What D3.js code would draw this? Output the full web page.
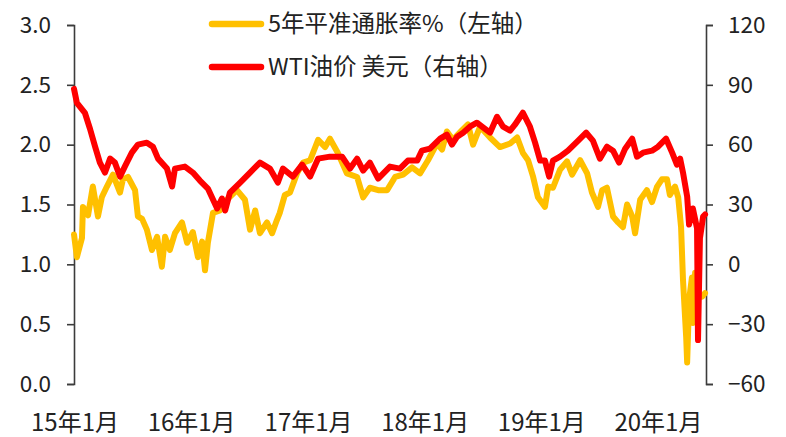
<!DOCTYPE html>
<html><head><meta charset="utf-8">
<script src="https://cdn.jsdelivr.net/npm/d3@7"></script>
<style>body{margin:0;background:#fff}svg{display:block}text{font-family:"Noto Sans CJK SC","Noto Sans",sans-serif}</style>
</head><body><svg id="c" width="786" height="437"></svg>
<script>
const seriesNames = ["5年平准通胀率%（左轴）", "WTI油价 美元（右轴）"];
const xTickLabels = ["15年1月","16年1月","17年1月","18年1月","19年1月","20年1月"];
const xTickDates = ["2015-01-01","2016-01-01","2017-01-01","2018-01-01","2019-01-01","2020-01-01"];
const leftTicks = [0.0,0.5,1.0,1.5,2.0,2.5,3.0];
const rightTicks = [-60,-30,0,30,60,90,120];

const bkDates = ["2015-01-01","2015-01-10","2015-01-26","2015-01-29","2015-02-14","2015-03-01","2015-03-17","2015-03-29","2015-04-14","2015-05-03","2015-05-25","2015-06-03","2015-06-19","2015-07-11","2015-07-20","2015-08-02","2015-08-17","2015-09-02","2015-09-18","2015-10-03","2015-10-13","2015-10-28","2015-11-13","2015-12-05","2015-12-21","2016-01-08","2016-01-24","2016-02-06","2016-02-15","2016-02-24","2016-03-11","2016-04-02","2016-04-24","2016-05-25","2016-06-19","2016-07-05","2016-07-21","2016-08-05","2016-08-27","2016-09-12","2016-09-27","2016-10-06","2016-10-22","2016-11-07","2016-11-29","2016-12-18","2017-01-09","2017-02-03","2017-02-25","2017-03-12","2017-04-06","2017-05-04","2017-06-05","2017-06-24","2017-07-15","2017-08-10","2017-09-07","2017-10-02","2017-10-27","2017-11-24","2017-12-19","2018-01-13","2018-02-10","2018-02-26","2018-03-13","2018-04-01","2018-04-29","2018-05-18","2018-06-03","2018-06-25","2018-07-26","2018-08-26","2018-09-27","2018-10-19","2018-11-06","2018-11-22","2018-12-08","2018-12-23","2019-01-14","2019-01-24","2019-02-08","2019-03-02","2019-03-24","2019-04-09","2019-05-04","2019-05-26","2019-06-10","2019-06-29","2019-07-12","2019-07-27","2019-08-15","2019-08-31","2019-09-15","2019-09-28","2019-10-14","2019-10-23","2019-11-08","2019-11-29","2019-12-15","2019-12-31","2020-01-15","2020-01-31","2020-02-09","2020-02-25","2020-03-06","2020-03-15","2020-03-21","2020-03-31","2020-04-03","2020-04-09","2020-04-18","2020-04-21","2020-04-28","2020-05-07","2020-05-20","2020-05-29"];
const bkValues = [1.25,1.06,1.22,1.48,1.41,1.65,1.40,1.56,1.65,1.75,1.60,1.71,1.73,1.62,1.40,1.38,1.29,1.12,1.23,0.98,1.23,1.12,1.26,1.35,1.18,1.27,1.06,1.19,0.95,1.18,1.43,1.45,1.54,1.62,1.54,1.29,1.45,1.26,1.35,1.26,1.37,1.43,1.58,1.60,1.76,1.85,1.87,2.04,1.98,2.05,1.93,1.76,1.73,1.56,1.64,1.62,1.62,1.73,1.75,1.81,1.76,1.87,2.01,1.96,2.11,2.04,2.12,2.17,2.00,2.15,2.06,1.98,2.01,2.06,1.93,1.87,1.73,1.56,1.48,1.65,1.64,1.79,1.86,1.75,1.87,1.76,1.60,1.48,1.62,1.64,1.40,1.35,1.31,1.50,1.40,1.26,1.54,1.62,1.52,1.65,1.71,1.71,1.58,1.65,1.56,1.31,0.87,0.39,0.18,0.70,0.89,0.51,0.93,0.73,0.73,0.76];

const wtiDates = ["2015-01-01","2015-01-10","2015-02-04","2015-02-20","2015-03-08","2015-03-23","2015-04-08","2015-04-24","2015-05-09","2015-05-25","2015-06-09","2015-07-01","2015-07-20","2015-08-17","2015-09-05","2015-09-21","2015-10-19","2015-11-04","2015-11-13","2015-12-14","2016-01-08","2016-01-30","2016-02-24","2016-03-24","2016-04-08","2016-04-18","2016-05-03","2016-06-04","2016-07-05","2016-08-05","2016-09-05","2016-09-30","2016-10-16","2016-11-16","2016-12-15","2017-01-09","2017-02-03","2017-03-12","2017-04-19","2017-05-14","2017-06-05","2017-06-24","2017-07-15","2017-08-10","2017-09-16","2017-10-17","2017-11-11","2017-12-10","2017-12-25","2018-01-19","2018-02-20","2018-03-13","2018-03-29","2018-04-14","2018-05-03","2018-05-24","2018-06-15","2018-07-01","2018-07-26","2018-08-17","2018-09-05","2018-09-27","2018-10-12","2018-11-06","2018-11-28","2018-12-14","2018-12-30","2019-01-14","2019-01-27","2019-02-08","2019-03-02","2019-03-27","2019-04-28","2019-05-23","2019-06-13","2019-07-05","2019-07-27","2019-08-15","2019-09-03","2019-09-22","2019-10-14","2019-10-29","2019-11-17","2019-12-15","2020-01-03","2020-01-28","2020-02-16","2020-03-02","2020-03-12","2020-03-21","2020-04-03","2020-04-09","2020-04-21","2020-05-04","2020-05-07","2020-05-13","2020-05-23","2020-05-29"];
const wtiValues = [88,81,76,68,59,51,46,53,51,44,49,56,60,61,59,53,48,39,48,49,46,42,38,28,33,27,36,41,46,51,48,41,48,44,50,44,53,54,54,48,53,47,51,43,49,48,52,52,57,58,63,65,60,64,66,69,71,69,66,74,69,67,70,76,69,61,52,52,44,52,54,57,62,66,62,53,59,57,51,58,63,54,56,57,59,63,56,50,53,46,34,20,28,18,-38,13,24,25];

const colors = ["#FFC000", "#FF0000"];
const parse = d3.timeParse("%Y-%m-%d");
const W = 786, H = 437;
const m = {left: 74, right: 80, top: 25, bottom: 53};
const svg = d3.select("#c");

const x = d3.scaleTime().domain([parse("2015-01-01"), parse("2020-06-01")]).range([m.left, W - m.right]);
const yL = d3.scaleLinear().domain([0, 3]).range([H - m.bottom, m.top]);
const yR = d3.scaleLinear().domain([-60, 120]).range([H - m.bottom, m.top]);

const axisColor = "#3c3c3c";
const fs = 22.5;

// left axis
const gL = svg.append("g").attr("transform", `translate(${m.left},0)`)
  .call(d3.axisLeft(yL).tickValues(leftTicks).tickFormat(d3.format(".1f")).tickSize(7).tickPadding(16));
gL.select(".domain").attr("stroke", axisColor).attr("stroke-width", 1.6);
gL.selectAll(".tick line").attr("stroke", axisColor).attr("stroke-width", 1.6);
gL.selectAll("text").attr("font-size", fs).attr("fill", "#222").style("font-family", '"Noto Sans CJK SC"');

// right axis
const gR = svg.append("g").attr("transform", `translate(${W - m.right},0)`)
  .call(d3.axisRight(yR).tickValues(rightTicks).tickSize(7).tickPadding(15));
gR.select(".domain").attr("stroke", axisColor).attr("stroke-width", 1.6);
gR.selectAll(".tick line").attr("stroke", axisColor).attr("stroke-width", 1.6);
gR.selectAll("text").attr("font-size", fs).attr("fill", "#222").style("font-family", '"Noto Sans CJK SC"');

// x labels
svg.append("g").selectAll("text").data(xTickLabels).join("text")
  .attr("x", (d, i) => x(parse(xTickDates[i])) + 1)
  .attr("y", 431)
  .attr("text-anchor", "middle")
  .attr("font-size", 24).attr("fill", "#222")
  .text(d => d);

const bk = bkDates.map((d, i) => ({date: parse(d), v: bkValues[i]}));
const wti = wtiDates.map((d, i) => ({date: parse(d), v: wtiValues[i]}));

svg.append("path").datum(bk)
  .attr("d", d3.line().x(d => x(d.date)).y(d => yL(d.v)))
  .attr("fill", "none").attr("stroke", colors[0]).attr("stroke-width", 6)
  .attr("stroke-linejoin", "round").attr("stroke-linecap", "round");
svg.append("path").datum(wti)
  .attr("d", d3.line().x(d => x(d.date)).y(d => yR(d.v)))
  .attr("fill", "none").attr("stroke", colors[1]).attr("stroke-width", 6)
  .attr("stroke-linejoin", "round").attr("stroke-linecap", "round");

// legend
const lg = svg.append("g");
seriesNames.forEach((name, i) => {
  const yy = 24 + i * 43;
  lg.append("line").attr("x1", 212).attr("x2", 261).attr("y1", yy).attr("y2", yy)
    .attr("stroke", colors[i]).attr("stroke-width", 6.5).attr("stroke-linecap", "round");
  lg.append("text").attr("x", 268).attr("y", yy).attr("dy", "0.36em")
    .attr("font-size", 23.5).attr("fill", "#222").text(name);
});
</script></body></html>
